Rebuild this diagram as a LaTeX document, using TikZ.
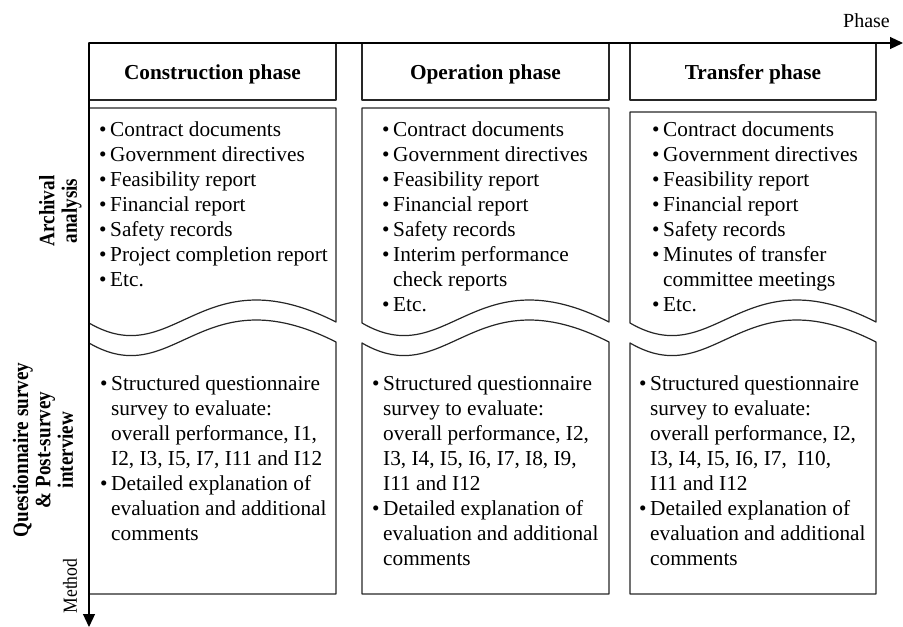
\documentclass[tikz,border=0pt]{standalone}
\usepackage{fontspec}
\usepackage{graphicx}
\setmainfont{Liberation Serif}
\usetikzlibrary{arrows.meta}
\newcommand{\bu}{\makebox[11pt][l]{•}}
\newcommand{\ind}{\hspace*{11pt}}
\tikzset{
  boxline/.style={draw=black!85, line width=1.2pt, line join=round},
  axis/.style={draw=black, line width=1.2pt, -{Triangle[length=13pt,width=12pt]}},
  hdrtxt/.style={anchor=base, inner sep=0pt, font=\bfseries\fontsize{21.3}{25}\selectfont},
  bodytxt/.style={anchor=base west, inner sep=0pt, font=\fontsize{21.3}{25}\selectfont},
  sidelbl/.style={rotate=90, inner sep=0pt, font=\bfseries\fontsize{22}{22.5}\selectfont},
}
\newcommand{\colboxes}[3]{%
  \begin{scope}[shift={(#1,0)}]
    \draw[boxline] (0,43) rectangle (#3,100);
    \draw[boxline] (0,#2) -- (0,323) .. controls (86,373) and (111,253) .. (#3,322) -- (#3,#2) -- cycle;
    \draw[boxline] (0,594) -- (0,343) .. controls (86,393) and (111,273) .. (#3,342) -- (#3,594) -- cycle;
  \end{scope}}
\begin{document}
\begin{tikzpicture}[x=1pt,y=-1pt]
\useasboundingbox (0,0) rectangle (903,627);
% boxes
\colboxes{89}{108}{247}
\colboxes{362}{108}{247}
\colboxes{630}{112}{246}
% axes
\coordinate (O) at (89,43);
\coordinate (Xend) at (903,43);
\coordinate (Yend) at (89,627);
\draw[axis] (O) -- (Xend);
\draw[axis] (O) -- (Yend);
\node[anchor=base, inner sep=0pt, font=\fontsize{20}{24}\selectfont] (phase) at (866.5,27) {Phase};
\node[rotate=90, inner sep=0pt, font=\fontsize{20}{22}\selectfont] (method) at (70,586) {\scalebox{0.88}[1]{Method}};
% headers
\node[hdrtxt] (h1) at (212.5,79.5) {Construction phase};
\node[hdrtxt] (h2) at (485.5,79.5) {Operation phase};
\node[hdrtxt] (h3) at (753,79.5) {Transfer phase};
% side labels
\node[sidelbl] (l1) at (61,211) {\scalebox{0.87}[1]{\begin{tabular}{@{}c@{}}Archival\\analysis\end{tabular}}};
\node[sidelbl] (l2) at (46,450) {\scalebox{0.87}[1]{\begin{tabular}{@{}c@{}}Questionnaire survey\\\& Post-survey\\interview\end{tabular}}};
% upper texts
\node[bodytxt] (a1) at (99,136.5) {\begin{tabular}[t]{@{}l@{}}
\bu Contract documents\\
\bu Government directives\\
\bu Feasibility report\\
\bu Financial report\\
\bu Safety records\\
\bu Project completion report\\
\bu Etc.
\end{tabular}};
\node[bodytxt] (a2) at (382,136.5) {\begin{tabular}[t]{@{}l@{}}
\bu Contract documents\\
\bu Government directives\\
\bu Feasibility report\\
\bu Financial report\\
\bu Safety records\\
\bu Interim performance\\
\ind check reports\\
\bu Etc.
\end{tabular}};
\node[bodytxt] (a3) at (652,136.5) {\begin{tabular}[t]{@{}l@{}}
\bu Contract documents\\
\bu Government directives\\
\bu Feasibility report\\
\bu Financial report\\
\bu Safety records\\
\bu Minutes of transfer\\
\ind committee meetings\\
\bu Etc.
\end{tabular}};
% lower texts
\node[bodytxt] (q1) at (100,390) {\begin{tabular}[t]{@{}l@{}}
\bu Structured questionnaire\\
\ind survey to evaluate:\\
\ind overall performance, I1,\\
\ind I2, I3, I5, I7, I11 and I12\\
\bu Detailed explanation of\\
\ind evaluation and additional\\
\ind comments
\end{tabular}};
\node[bodytxt] (q2) at (372,390) {\begin{tabular}[t]{@{}l@{}}
\bu Structured questionnaire\\
\ind survey to evaluate:\\
\ind overall performance, I2,\\
\ind I3, I4, I5, I6, I7, I8, I9,\\
\ind I11 and I12\\
\bu Detailed explanation of\\
\ind evaluation and additional\\
\ind comments
\end{tabular}};
\node[bodytxt] (q3) at (639,390) {\begin{tabular}[t]{@{}l@{}}
\bu Structured questionnaire\\
\ind survey to evaluate:\\
\ind overall performance, I2,\\
\ind I3, I4, I5, I6, I7, \ I10,\\
\ind I11 and I12\\
\bu Detailed explanation of\\
\ind evaluation and additional\\
\ind comments
\end{tabular}};
\end{tikzpicture}
\end{document}
